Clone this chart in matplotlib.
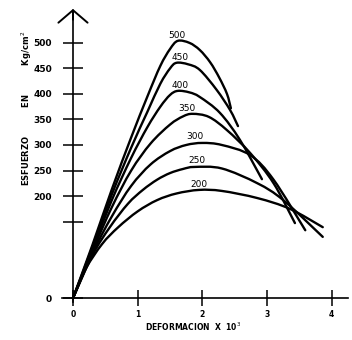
import matplotlib
matplotlib.use("Agg")
import matplotlib.pyplot as plt
import numpy as np
from matplotlib.path import Path
from matplotlib.patches import PathPatch

# ---- data (strain x 10^3, stress kg/cm2) ----
levels = ["200", "250", "300", "350", "400", "450", "500"]

x200 = [0, 0.2, 0.45, 0.7, 1.0, 1.3, 1.6, 1.95, 2.3, 2.85, 3.35, 3.86]
y200 = [0, 58, 106, 139, 170, 192, 205, 212, 210, 196, 175, 139]

x250 = [0, 0.3, 0.57, 0.85, 1.08, 1.3, 1.5, 1.7, 1.88, 2.3, 2.85, 3.25, 3.86]
y250 = [0, 84, 139, 185, 212, 232, 245, 253, 257, 254, 225, 192, 120]

x300 = [0, 0.3, 0.6, 0.9, 1.2, 1.5, 1.75, 2.0, 2.3, 2.74, 3.1, 3.59]
y300 = [0, 88, 160, 220, 262, 288, 300, 304, 300, 280, 232, 133]

x350 = [0, 0.3, 0.6, 0.9, 1.2, 1.5, 1.7, 1.85, 2.1, 2.38, 2.74, 3.1, 3.43]
y350 = [0, 92, 178, 250, 303, 340, 356, 361, 355, 329, 284, 225, 147]

x400 = [0, 0.3, 0.6, 0.9, 1.15, 1.35, 1.5, 1.62, 1.8, 1.96, 2.27, 2.58, 2.92]
y400 = [0, 96, 192, 275, 335, 375, 398, 406, 403, 394, 363, 310, 233]

x450 = [0, 0.3, 0.6, 0.9, 1.15, 1.35, 1.5, 1.6, 1.78, 1.96, 2.22, 2.43, 2.55]
y450 = [0, 100, 203, 295, 365, 420, 450, 461, 458, 447, 408, 368, 337]

x500 = [0, 0.3, 0.6, 0.9, 1.15, 1.35, 1.5, 1.62, 1.8, 1.96, 2.12, 2.26, 2.38, 2.44]
y500 = [0, 104, 213, 315, 395, 455, 488, 504, 500, 486, 462, 432, 400, 372]

label_x = [1.94, 1.92, 1.89, 1.76, 1.65, 1.65, 1.61]
label_y = [222, 270, 317, 372, 417, 472, 515]

xticks = [0, 1, 2, 3, 4]
xticklabels = ["0", "1", "2", "3", "4"]
yticks = [0, 150, 200, 250, 300, 350, 400, 450, 500]
yticklabels = ["0", "", "200", "250", "300", "350", "400", "450", "500"]

xlabel = "DEFORMACION  X  10$^{3}$"
ylabel = "ESFUERZO          EN          Kg/cm$^{2}$"

series = [(x200, y200), (x250, y250), (x300, y300), (x350, y350),
          (x400, y400), (x450, y450), (x500, y500)]


def smooth_path(xs, ys):
    """Catmull-Rom curve through the given points, as cubic Bezier path."""
    P = np.column_stack([xs, ys]).astype(float)
    n = len(P)
    verts = [P[0]]
    codes = [Path.MOVETO]
    for i in range(n - 1):
        p0 = P[i - 1] if i > 0 else P[i]
        p1 = P[i]
        p2 = P[i + 1]
        p3 = P[i + 2] if i + 2 < n else P[i + 1]
        c1 = p1 + (p2 - p0) / 6.0
        c2 = p2 - (p3 - p1) / 6.0
        verts += [c1, c2, p2]
        codes += [Path.CURVE4] * 3
    return Path(verts, codes)


fig = plt.figure(figsize=(3.52, 3.40), dpi=100)
ax = fig.add_axes([0, 0, 1, 1])
ax.set_xlim(-1.128, 4.312)
ax.set_ylim(-82, 584)

for xs, ys in series:
    ax.add_patch(PathPatch(smooth_path(xs, ys), fill=False, lw=1.7,
                           ec="black", capstyle="round", joinstyle="round"))

for lab, lx, ly in zip(levels, label_x, label_y):
    ax.text(lx, ly, lab, fontsize=6.5, ha="center", va="center",
            family="DejaVu Sans", color="black")

# axes
for s in ["top", "right"]:
    ax.spines[s].set_visible(False)
ax.spines["left"].set_position(("data", 0))
ax.spines["bottom"].set_position(("data", 0))
ax.spines["left"].set_bounds(-8, 560)
ax.spines["bottom"].set_bounds(-0.17, 4.25)
ax.spines["left"].set_linewidth(1.2)
ax.spines["bottom"].set_linewidth(1.2)

ax.set_xticks(xticks)
ax.set_xticklabels(xticklabels, fontsize=5.5, fontweight="bold")
ax.set_yticks(yticks)
ax.set_yticklabels(yticklabels, fontsize=6.5, fontweight="bold")
ax.tick_params(axis="y", direction="inout", length=14, width=1.1, pad=8)
ax.tick_params(axis="x", direction="inout", length=11, width=1.1, pad=3)

# arrow heads
ax.annotate("", xy=(0, 572), xytext=(0, 540),
            arrowprops=dict(arrowstyle="->, head_length=0.3, head_width=0.35",
                            lw=1.4, color="black", mutation_scale=30))
ax.annotate("", xy=(4.4, 0), xytext=(4.2, 0),
            arrowprops=dict(arrowstyle="->, head_length=0.3, head_width=0.4",
                            lw=1.4, color="black", mutation_scale=30))

ax.text(1.85, -56, xlabel, fontsize=5.5, fontweight="bold",
        ha="center", va="center")
ax.text(-0.71, 372, ylabel, fontsize=6, fontweight="bold",
        ha="center", va="center", rotation=90)

fig.savefig("out.png", dpi=100)
